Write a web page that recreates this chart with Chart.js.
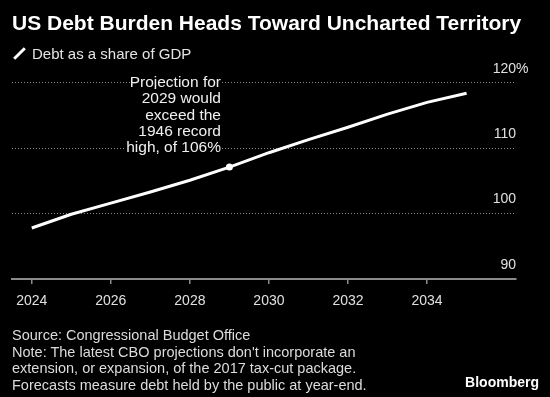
<!DOCTYPE html>
<html>
<head>
<meta charset="utf-8">
<script src="https://cdn.jsdelivr.net/npm/chart.js@4/dist/chart.umd.min.js"></script>
<style>
  html, body { margin: 0; padding: 0; background: #000; overflow: hidden; }
  body { width: 550px; height: 397px; position: relative; font-family: "Liberation Sans", Arial, sans-serif; }
  #wrap { position: absolute; left: 0; top: 0; width: 550px; height: 397px; }
  .title { position: absolute; left: 12px; top: 12px; font-size: 21px; line-height: 21px; font-weight: bold; color: #fff; white-space: nowrap; }
  .legend { position: absolute; left: 12px; top: 46px; font-size: 15px; line-height: 15px; color: #e4e4e4; white-space: nowrap; }
  .legend i { display: inline-block; width: 15px; height: 3px; background: #fff; transform: rotate(-45deg); vertical-align: 4px; margin-right: 5px; }
  .note { position: absolute; left: 60px; width: 161px; top: 74px; font-size: 15.5px; line-height: 16.3px; color: #f0f0f0; text-align: right; }
  .note span { background: #000; }
  .foot { position: absolute; left: 12px; top: 327px; font-size: 14.5px; line-height: 16.5px; color: #dcdcdc; white-space: nowrap; }
  .brand { position: absolute; right: 11px; top: 375px; font-size: 14px; line-height: 14px; font-weight: bold; color: #fff; }
</style>
</head>
<body>
<div id="wrap"><canvas id="debtChart"></canvas></div>
<div class="title">US Debt Burden Heads Toward Uncharted Territory</div>
<div class="legend"><i></i>Debt as a share of GDP</div>
<div class="note"><span>Projection for</span><br><span>2029 would</span><br><span>exceed the</span><br><span>1946 record</span><br><span>high, of 106%</span></div>
<div class="foot">Source: Congressional Budget Office<br>Note: The latest CBO projections don't incorporate an<br>extension, or expansion, of the 2017 tax-cut package.<br>Forecasts measure debt held by the public at year-end.</div>
<div class="brand">Bloomberg</div>
<script>
const years = [2024, 2025, 2026, 2027, 2028, 2029, 2030, 2031, 2032, 2033, 2034, 2035];
const debtShare = [97.8, 99.9, 101.6, 103.3, 105.1, 107.1, 109.3, 111.3, 113.2, 115.2, 117.0, 118.4];
const xTicks = [2024, 2026, 2028, 2030, 2032, 2034];
const yTicks = [90, 100, 110, 120];
const markYear = 2029;

const tickColor = '#e0e0e0';
const yLabelOffset = -14;

// hangs the % sign after the top y label, like the original
const pctPlugin = {
  id: 'pct',
  afterDraw(chart) {
    const s = chart.scales.y;
    const ctx = chart.ctx;
    ctx.save();
    ctx.font = '14px "Liberation Sans", Arial, sans-serif';
    ctx.fillStyle = tickColor;
    ctx.textAlign = 'left';
    ctx.textBaseline = 'middle';
    ctx.fillText('%', s.left, s.getPixelForValue(yTicks[yTicks.length - 1]) + yLabelOffset);
    ctx.restore();
  }
};

new Chart(document.getElementById('debtChart'), {
  type: 'line',
  data: {
    datasets: [{
      label: 'Debt as a share of GDP',
      data: years.map((y, i) => ({ x: y, y: debtShare[i] })),
      borderColor: '#fff',
      backgroundColor: '#fff',
      borderWidth: 3,
      tension: 0,
      pointRadius: c => (c.raw && c.raw.x === markYear ? 3.5 : 0),
      pointHoverRadius: 0,
      pointBorderWidth: 0
    }]
  },
  options: {
    responsive: true,
    maintainAspectRatio: false,
    animation: false,
    events: [],
    layout: { padding: { left: 12, right: 34, top: 82.7, bottom: 0 } },
    plugins: { legend: { display: false }, tooltip: { enabled: false } },
    scales: {
      x: {
        type: 'linear',
        min: 2023.5,
        max: 2036.25,
        afterBuildTicks: s => { s.ticks = xTicks.map(v => ({ value: v })); },
        afterFit: s => { s.height = 397 - 279; },
        grid: { drawOnChartArea: false, drawTicks: true, tickLength: 5, color: '#8a8a8a', lineWidth: 1.5 },
        border: { display: true, color: '#8a8a8a', width: 2 },
        ticks: {
          color: tickColor,
          font: { family: '"Liberation Sans", Arial, sans-serif', size: 14 },
          padding: 9,
          maxRotation: 0,
          callback: v => String(v)
        }
      },
      y: {
        position: 'right',
        min: 90,
        max: 120,
        afterBuildTicks: s => { s.ticks = yTicks.map(v => ({ value: v })); },
        grid: { drawTicks: false, color: '#8c8c8c', lineWidth: 1 },
        border: { display: false, dash: [1, 2] },
        ticks: {
          mirror: true,
          padding: 0,
          labelOffset: yLabelOffset,
          color: tickColor,
          font: { family: '"Liberation Sans", Arial, sans-serif', size: 14 },
          callback: v => String(v)
        }
      }
    }
  },
  plugins: [pctPlugin]
});
</script>
</body>
</html>
